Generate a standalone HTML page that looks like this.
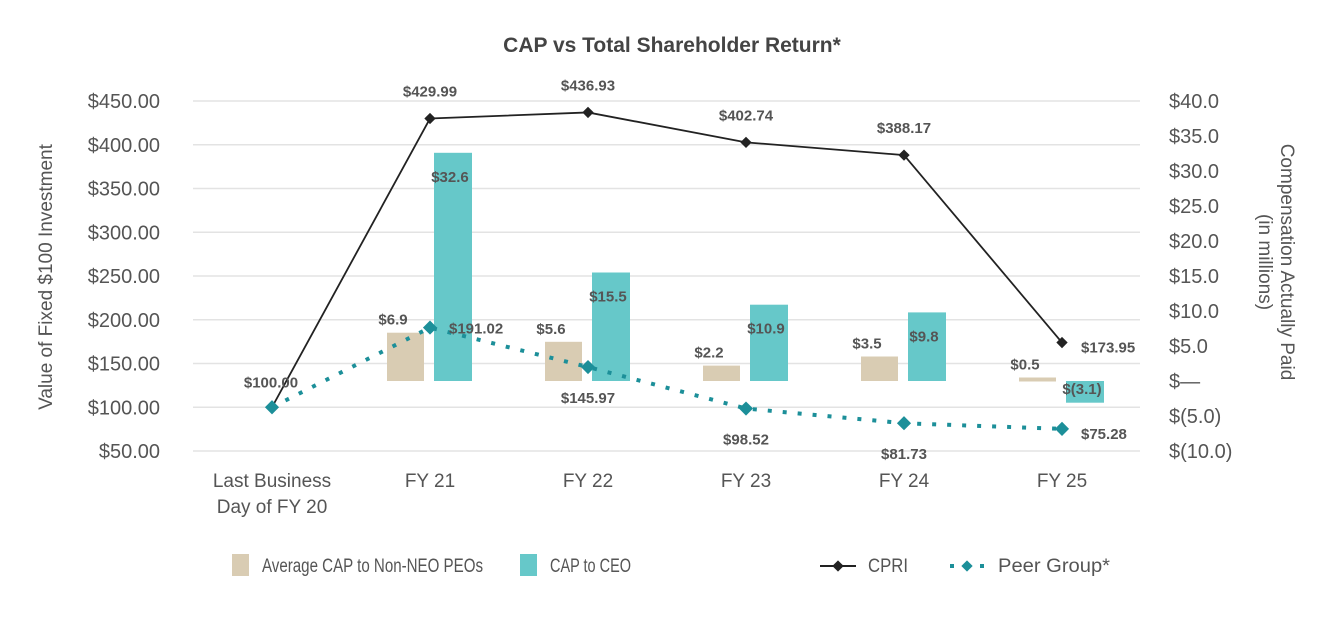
<!DOCTYPE html>
<html><head><meta charset="utf-8"><style>
html,body{margin:0;padding:0;background:#fff;}
svg text{font-family:"Liberation Sans",sans-serif;}
</style></head><body>
<svg id="chart" width="1344" height="624" viewBox="0 0 1344 624" xmlns="http://www.w3.org/2000/svg">
<text x="672" y="52" text-anchor="middle" font-size="21" font-weight="bold" fill="#444">CAP vs Total Shareholder Return*</text>
<g id="grid"></g><g id="bars"></g><g id="lines"></g><g id="labels"></g><g id="axes"></g>
<text transform="translate(52,277) rotate(-90)" text-anchor="middle" font-size="19" fill="#555">Value of Fixed $100 Investment</text>
<text transform="translate(1281,262) rotate(90)" text-anchor="middle" font-size="19" fill="#555">Compensation Actually Paid</text>
<text transform="translate(1259,262) rotate(90)" text-anchor="middle" font-size="19" fill="#555">(in millions)</text>
<g>
<rect x="232" y="554" width="17" height="22" fill="#d9ccb3"/>
<text x="262" y="572" font-size="19" fill="#555" textLength="221" lengthAdjust="spacingAndGlyphs">Average CAP to Non-NEO PEOs</text>
<rect x="520" y="554" width="17" height="22" fill="#66c8c9"/>
<text x="550" y="572" font-size="19" fill="#555" textLength="81" lengthAdjust="spacingAndGlyphs">CAP to CEO</text>
<line x1="820" y1="566" x2="856" y2="566" stroke="#222" stroke-width="2"/>
<rect x="834" y="562" width="8" height="8" fill="#222" transform="rotate(45 838 566)"/>
<text x="868" y="572" font-size="19" fill="#555" textLength="40" lengthAdjust="spacingAndGlyphs">CPRI</text>
<rect x="950" y="564" width="4" height="4" fill="#1c8f99"/><rect x="980" y="564" width="4" height="4" fill="#1c8f99"/>
<rect x="963" y="562" width="8" height="8" fill="#1c8f99" transform="rotate(45 967 566)"/>
<text x="998" y="572" font-size="19" fill="#555" textLength="112" lengthAdjust="spacingAndGlyphs">Peer Group*</text>
</g>
</svg>
<script>
const categories=["Last Business|Day of FY 20","FY 21","FY 22","FY 23","FY 24","FY 25"];
const cpri=[100.00,429.99,436.93,402.74,388.17,173.95];
const peer=[100.00,191.02,145.97,98.52,81.73,75.28];
const nonNeo=[null,6.9,5.6,2.2,3.5,0.5];
const ceo=[null,32.6,15.5,10.9,9.8,-3.1];
const leftTicks=[50,100,150,200,250,300,350,400,450];
const rightTicks=[-10,-5,0,5,10,15,20,25,30,35,40];
const rightTickLabels=["$(10.0)","$(5.0)","$—","$5.0","$10.0","$15.0","$20.0","$25.0","$30.0","$35.0","$40.0"];
const NS="http://www.w3.org/2000/svg";
const yL=v=>451-(v-50)*350/400;
const yR=v=>451-(v+10)*350/50;
const xC=i=>272+158*i;
function mk(g,tag,attrs,txt){const e=document.createElementNS(NS,tag);for(const k in attrs)e.setAttribute(k,attrs[k]);if(txt!==undefined)e.textContent=txt;document.getElementById(g).appendChild(e);return e;}
const f=v=>'$'+v.toFixed(2);
const fm=v=>v<0?'$('+Math.abs(v).toFixed(1)+')':'$'+v.toFixed(1);
leftTicks.forEach(t=>{
 let l=mk('grid','line',{x1:193,x2:1140,y1:yL(t),y2:yL(t),stroke:'#e3e3e3','stroke-width':1.5});
 
 
 let tx=mk('axes','text',{x:160,y:yL(t)+7,'text-anchor':'end','font-size':20,fill:'#555'},'$'+t.toFixed(2));
 
 
});
rightTicks.forEach((t,i)=>{
 let tx=mk('axes','text',{x:1169,y:yR(t)+7,'font-size':20,fill:'#555'},rightTickLabels[i]);
 
 
});
categories.forEach((c,i)=>{
 const parts=c.split('|');
 parts.forEach((p,j)=>{
  let tx=mk('axes','text',{x:xC(i),y:487+j*26,'text-anchor':'middle','font-size':19,fill:'#555'},p);
  
  
 });
});
const y0=yR(0);
categories.forEach((c,i)=>{
 if(nonNeo[i]!==null){
  const v=nonNeo[i],yt=yR(v);
  let r=mk('bars','rect',{x:xC(i)-43,y:Math.min(yt,y0),width:37,height:Math.max(Math.abs(y0-yt),4),fill:'#d9ccb3'});
  
  
  let t=mk('labels','text',{x:xC(i)-37,y:Math.min(yt,y0)-8,'text-anchor':'middle','font-size':15,'font-weight':'bold',fill:'#555'},fm(v));
  
  
 }
 if(ceo[i]!==null){
  const v=ceo[i],yt=yR(v);
  let r=mk('bars','rect',{x:xC(i)+4,y:Math.min(yt,y0),width:38,height:Math.abs(y0-yt),fill:'#66c8c9'});
  
  
  const ly=v>=0?yt+29:y0+13;
  let t=mk('labels','text',{x:xC(i)+20,y:ly,'text-anchor':'middle','font-size':15,'font-weight':'bold',fill:'#555'},fm(v));
  
  
 }
});
let pp=mk('lines','polyline',{points:peer.map((v,i)=>xC(i)+','+yL(v)).join(' '),fill:'none',stroke:'#1c8f99','stroke-width':4,'stroke-dasharray':'4 11'});


let cp=mk('lines','polyline',{points:cpri.map((v,i)=>xC(i)+','+yL(v)).join(' '),fill:'none',stroke:'#222','stroke-width':1.8});


cpri.forEach((v,i)=>{
 let m=mk('lines','rect',{x:xC(i)-4,y:yL(v)-4,width:8,height:8,fill:'#222',transform:`rotate(45 ${xC(i)} ${yL(v)})`});
 
 
 const last=i===cpri.length-1;
 let t=mk('labels','text',{x:last?xC(i)+19:(i===0?xC(i)-1:xC(i)),y:last?yL(v)+10:(i===0?yL(v)-20:yL(v)-22),'text-anchor':last?'start':'middle','font-size':15,'font-weight':'bold',fill:'#555'},f(v));
 
 
});
peer.forEach((v,i)=>{
 let m=mk('lines','rect',{x:xC(i)-5,y:yL(v)-5,width:10,height:10,fill:'#1c8f99',transform:`rotate(45 ${xC(i)} ${yL(v)})`});
 
 
 if(i===0) return;
 let x,y,a='middle';
 if(i===1){x=xC(i)+19;y=yL(v)+6;a='start';}
 else if(i===cpri.length-1){x=xC(i)+19;y=yL(v)+10;a='start';}
 else {x=xC(i);y=yL(v)+36;}
 let t=mk('labels','text',{x:x,y:y,'text-anchor':a,'font-size':15,'font-weight':'bold',fill:'#555'},f(v));
 
 
});
</script>
</body></html>
